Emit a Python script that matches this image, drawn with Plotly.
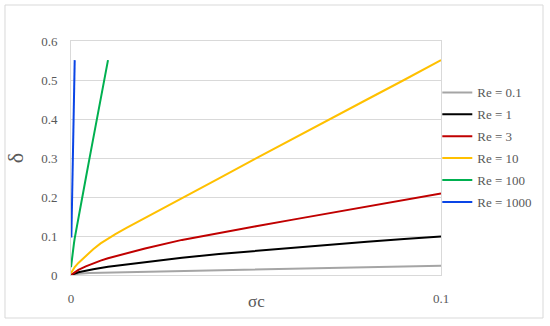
import plotly.graph_objects as go

# ---------------- data ----------------
sigma_re01 = [0, 0.002, 0.005, 0.01, 0.02, 0.03, 0.04, 0.05, 0.06, 0.07, 0.08, 0.09, 0.1]
delta_re01 = [0, 0.003, 0.005, 0.006, 0.009, 0.011, 0.013, 0.015, 0.017, 0.019, 0.021, 0.0225, 0.024]

sigma_re1 = [0, 0.002, 0.004, 0.006, 0.01, 0.015, 0.02, 0.03, 0.04, 0.05, 0.06, 0.07, 0.08, 0.09, 0.1]
delta_re1 = [0, 0.007, 0.011, 0.015, 0.021, 0.027, 0.033, 0.044, 0.054, 0.062, 0.07, 0.078, 0.085, 0.092, 0.099]

sigma_re3 = [0, 0.002, 0.004, 0.006, 0.008, 0.01, 0.015, 0.02, 0.03, 0.04, 0.05, 0.06, 0.07, 0.08, 0.09, 0.1]
delta_re3 = [0, 0.013, 0.022, 0.03, 0.037, 0.043, 0.056, 0.068, 0.09, 0.108, 0.125, 0.142, 0.159, 0.176, 0.193, 0.209]

sigma_re10 = [0, 0.001, 0.002, 0.003, 0.004, 0.006, 0.008, 0.01, 0.012, 0.015, 0.02, 0.03, 0.04, 0.05, 0.06, 0.07, 0.08, 0.09, 0.1]
delta_re10 = [0.005, 0.02, 0.031, 0.04, 0.049, 0.066, 0.081, 0.094, 0.105, 0.121, 0.146, 0.197, 0.248, 0.299, 0.35, 0.4, 0.45, 0.5, 0.551]

sigma_re100 = [0, 0.0001, 0.0002, 0.0003, 0.0004, 0.0006, 0.0008, 0.001, 0.0012, 0.0015, 0.002, 0.003, 0.004, 0.005, 0.006, 0.007, 0.008, 0.009, 0.01]
delta_re100 = [0.02, 0.03, 0.037, 0.043, 0.05, 0.066, 0.081, 0.094, 0.105, 0.121, 0.146, 0.197, 0.248, 0.299, 0.35, 0.4, 0.45, 0.5, 0.551]

sigma_re1000 = [0.0001, 0.00012, 0.00015, 0.0002, 0.0003, 0.0004, 0.0005, 0.0006, 0.0007, 0.0008, 0.0009, 0.001]
delta_re1000 = [0.096, 0.106, 0.121, 0.146, 0.197, 0.248, 0.299, 0.35, 0.4, 0.45, 0.5, 0.551]

series_names = ["Re = 0.1", "Re = 1", "Re = 3", "Re = 10", "Re = 100", "Re = 1000"]
series_colors = ["#a5a5a5", "#000000", "#c00000", "#ffc000", "#00b050", "#0a45e6"]

x_tickvals = [0, 0.1]
x_ticktext = ["0", "0.1"]
y_tickvals = [0, 0.1, 0.2, 0.3, 0.4, 0.5, 0.6]
y_ticktext = ["0", "0.1", "0.2", "0.3", "0.4", "0.5", "0.6"]
x_title = "σc"
y_title = "δ"

xs = [sigma_re01, sigma_re1, sigma_re3, sigma_re10, sigma_re100, sigma_re1000]
ys = [delta_re01, delta_re1, delta_re3, delta_re10, delta_re100, delta_re1000]

FONT = "Liberation Serif"
TXT = "#595959"

fig = go.Figure()
for x, y, n, c in zip(xs, ys, series_names, series_colors):
    fig.add_trace(go.Scatter(x=x, y=y, mode="lines", name=n, legendgroup=n,
                             line=dict(color=c, width=2)))

fig.update_layout(
    width=550, height=326,
    margin=dict(l=71, r=109, t=41, b=51, autoexpand=False),
    paper_bgcolor="white", plot_bgcolor="white",
    font=dict(family=FONT, size=13, color=TXT),
    showlegend=True,
    legend=dict(x=0.99, xanchor="left", y=0.545, yanchor="middle",
                font=dict(family=FONT, size=13, color=TXT),
                tracegroupgap=2, bgcolor="rgba(0,0,0,0)", itemwidth=30),
    shapes=[dict(type="rect", xref="paper", yref="paper",
                 x0=-0.1784, x1=1.2757, y0=-0.1838, y1=1.1538,
                 line=dict(color="#d9d9d9", width=1), layer="below")],
    annotations=[dict(text=x_title, xref="paper", yref="paper",
                      x=0.5, y=-0.115, xanchor="center", yanchor="middle",
                      showarrow=False, font=dict(family=FONT, size=17, color=TXT))],
)

fig.update_xaxes(range=[0, 0.1], tickvals=x_tickvals, ticktext=x_ticktext,
                 showgrid=False, zeroline=False, automargin=False,
                 showline=True, linecolor="#d9d9d9", linewidth=1, mirror=True,
                 ticks="", ticklabelstandoff=11,
                 tickfont=dict(family=FONT, size=13, color=TXT))
fig.update_yaxes(range=[0, 0.6], tickvals=y_tickvals, ticktext=y_ticktext,
                 showgrid=True, gridcolor="#d9d9d9", gridwidth=1, zeroline=False,
                 automargin=False,
                 showline=True, linecolor="#d9d9d9", linewidth=1, mirror=True,
                 ticks="", ticklabelstandoff=10,
                 tickfont=dict(family=FONT, size=13, color=TXT),
                 title=dict(text=y_title, standoff=11,
                            font=dict(family=FONT, size=22, color=TXT)))

fig.write_html("out.html", config={"displayModeBar": False},
               post_script="document.body.style.margin='0';document.body.style.padding='0';")
